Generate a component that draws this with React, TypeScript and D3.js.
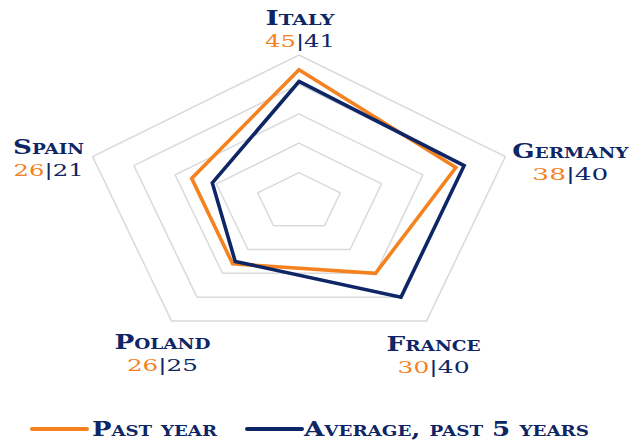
import React from "react";
import * as d3 from "d3";

// ---- data ----
const categories = ["Italy", "Germany", "France", "Poland", "Spain"];
const pastYear = [45, 38, 30, 26, 26];
const avg5Years = [41, 40, 40, 25, 21];
const seriesNames = ["Past year", "Average, past 5 years"];
const ringTicks = [10, 20, 30, 40, 50];

// ---- layout / style ----
const W = 632;
const H = 441;
const CX = 299;
const CY = 202;
const RX = 217;
const RY = 147;
const ORANGE = "#F5821F";
const NAVY = "#0E2566";
const GRID = "#DADADA";
const FONT = "'DejaVu Serif', serif";
const NAME_SIZE = 20;
const NUM_SIZE = 16;
// label centre offsets from each outer vertex (name baseline) and text widths
const labelLayout = [
  { dx: 1, dy: -30, nameW: 69, numW: 70 },
  { dx: 65, dy: 1, nameW: 116, numW: 76 },
  { dx: 7, dy: 30, nameW: 94, numW: 72 },
  { dx: -9, dy: 28, nameW: 96, numW: 71 },
  { dx: -44, dy: -3, nameW: 71, numW: 70 },
];
const legendLayout = [
  { x1: 32, x2: 87, tx: 92, tw: 125 },
  { x1: 247, x2: 302, tx: 304, tw: 285 },
];

const rScale = d3.scaleLinear().domain([0, d3.max(ringTicks) as number]).range([0, 1]);
const angle = (i: number) => (2 * Math.PI * i) / categories.length;
const pt = (i: number, v: number): [number, number] => {
  const k = rScale(v);
  const a = angle(i);
  return [CX + RX * k * Math.sin(a), CY - RY * k * Math.cos(a)];
};

const closedLine = d3
  .line<[number, number]>()
  .x((d) => d[0])
  .y((d) => d[1])
  .curve(d3.curveLinearClosed);

function FitText(props: {
  x: number;
  y: number;
  size: number;
  width: number;
  weight?: string | number;
  anchor?: string;
  children: React.ReactNode;
  fill?: string;
}) {
  const { x, y, size, width, weight = "bold", anchor = "middle", children, fill = NAVY } = props;
  return (
    <text
      x={x}
      y={y}
      textAnchor={anchor}
      fontFamily={FONT}
      fontSize={size}
      fontWeight={weight}
      fill={fill}
      textLength={width}
      lengthAdjust="spacingAndGlyphs"
      style={{ fontVariant: "small-caps" }}
    >
      {children}
    </text>
  );
}

export default function App() {
  const series = [
    { name: seriesNames[0], values: pastYear, color: ORANGE },
    { name: seriesNames[1], values: avg5Years, color: NAVY },
  ];
  const maxV = d3.max(ringTicks) as number;
  const legendY = 429;

  return (
    <svg
      width={W}
      height={H}
      viewBox={`0 0 ${W} ${H}`}
      style={{ position: "absolute", left: 0, top: 0, background: "#fff" }}
    >
      {/* grid rings */}
      {ringTicks.map((t) => (
        <path
          key={t}
          d={closedLine(categories.map((_, i) => pt(i, t))) || ""}
          fill="none"
          stroke={GRID}
          strokeWidth={1.5}
        />
      ))}

      {/* series */}
      {series.map((s) => (
        <path
          key={s.name}
          d={closedLine(s.values.map((v, i) => pt(i, v))) || ""}
          fill="none"
          stroke={s.color}
          strokeWidth={3.6}
          strokeLinejoin="miter"
        />
      ))}

      {/* axis labels */}
      {categories.map((c, i) => {
        const [vx, vy] = pt(i, maxV);
        const L = labelLayout[i];
        const lx = vx + L.dx;
        const ly = vy + L.dy;
        return (
          <g key={c}>
            <FitText x={lx} y={ly} size={NAME_SIZE} width={L.nameW}>
              {c}
            </FitText>
            <FitText x={lx} y={ly + 22} size={NUM_SIZE} width={L.numW} weight="normal">
              <tspan fill={ORANGE}>{pastYear[i]}</tspan>
              <tspan fill={NAVY}>|{avg5Years[i]}</tspan>
            </FitText>
          </g>
        );
      })}

      {/* legend */}
      {series.map((s, i) => {
        const L = legendLayout[i];
        return (
          <g key={s.name}>
            <line
              x1={L.x1}
              x2={L.x2}
              y1={legendY}
              y2={legendY}
              stroke={s.color}
              strokeWidth={4}
              strokeLinecap="round"
            />
            <FitText x={L.tx} y={legendY + 7} size={NAME_SIZE} width={L.tw} anchor="start">
              {s.name}
            </FitText>
          </g>
        );
      })}
    </svg>
  );
}
